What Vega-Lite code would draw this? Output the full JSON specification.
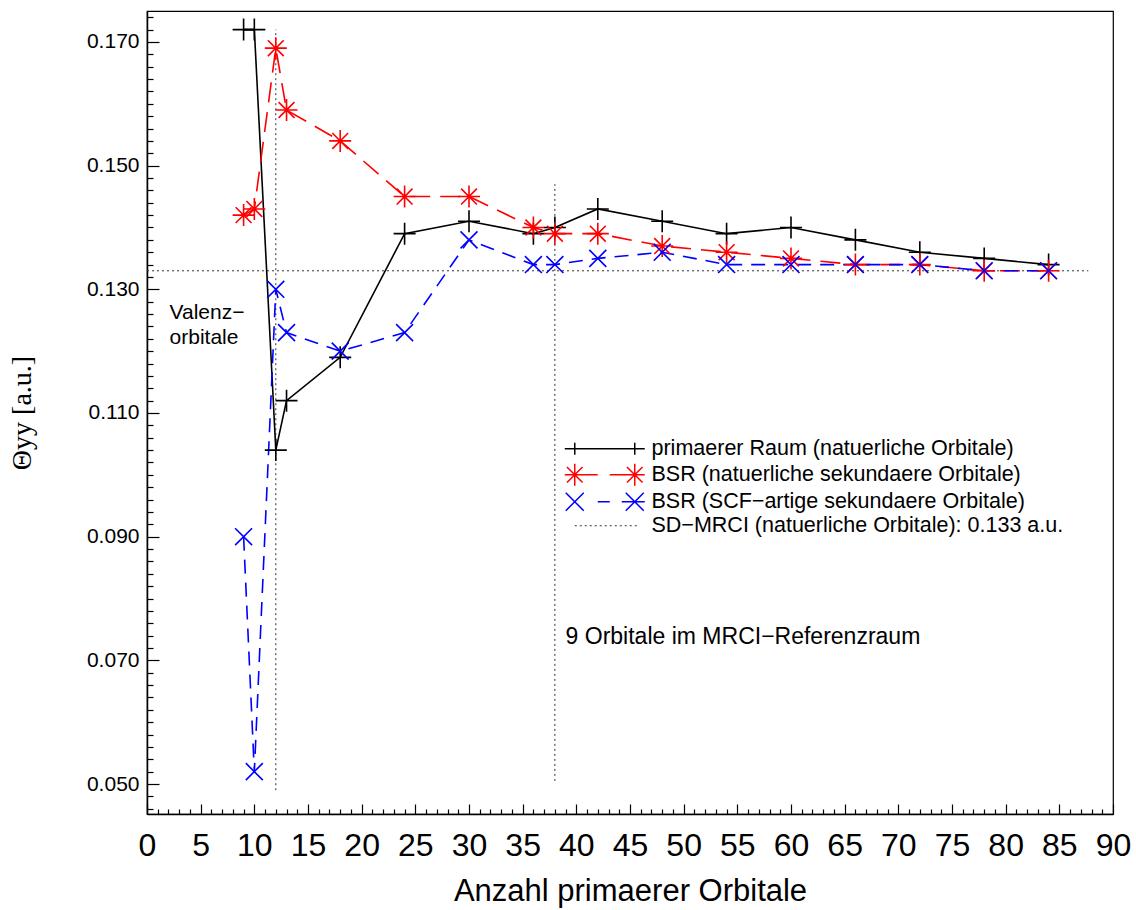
{
  "$schema": "https://vega.github.io/schema/vega-lite/v6.json",
  "width": 966,
  "height": 803,
  "autosize": {"type": "none"},
  "padding": {"left": 147, "top": 11, "right": 23, "bottom": 96},
  "background": "white",
  "config": {
    "font": "Liberation Sans",
    "view": {"stroke": "black", "strokeWidth": 1.2},
    "axis": {"grid": false, "domainColor": "black", "domainWidth": 1.5, "tickColor": "black", "tickWidth": 1.2, "labelColor": "black", "titleColor": "black", "labelOverlap": false, "labelFlush": false, "labelBound": false, "titleFontWeight": "normal"}
  },
  "datasets": {
    "series": [
      {"series": "A", "x": 9, "y": 0.172}, {"series": "A", "x": 10, "y": 0.172}, {"series": "A", "x": 12, "y": 0.104}, {"series": "A", "x": 13, "y": 0.112}, {"series": "A", "x": 18, "y": 0.119}, {"series": "A", "x": 24, "y": 0.139}, {"series": "A", "x": 30, "y": 0.141}, {"series": "A", "x": 36, "y": 0.139}, {"series": "A", "x": 38, "y": 0.140}, {"series": "A", "x": 42, "y": 0.143}, {"series": "A", "x": 48, "y": 0.141}, {"series": "A", "x": 54, "y": 0.139}, {"series": "A", "x": 60, "y": 0.140}, {"series": "A", "x": 66, "y": 0.138}, {"series": "A", "x": 72, "y": 0.136}, {"series": "A", "x": 78, "y": 0.135}, {"series": "A", "x": 84, "y": 0.134},
      {"series": "B", "x": 9, "y": 0.142}, {"series": "B", "x": 10, "y": 0.143}, {"series": "B", "x": 12, "y": 0.169}, {"series": "B", "x": 13, "y": 0.159}, {"series": "B", "x": 18, "y": 0.154}, {"series": "B", "x": 24, "y": 0.145}, {"series": "B", "x": 30, "y": 0.145}, {"series": "B", "x": 36, "y": 0.140}, {"series": "B", "x": 38, "y": 0.139}, {"series": "B", "x": 42, "y": 0.139}, {"series": "B", "x": 48, "y": 0.137}, {"series": "B", "x": 54, "y": 0.136}, {"series": "B", "x": 60, "y": 0.135}, {"series": "B", "x": 66, "y": 0.134}, {"series": "B", "x": 72, "y": 0.134}, {"series": "B", "x": 78, "y": 0.133}, {"series": "B", "x": 84, "y": 0.133},
      {"series": "C", "x": 9, "y": 0.090}, {"series": "C", "x": 10, "y": 0.052}, {"series": "C", "x": 12, "y": 0.130}, {"series": "C", "x": 13, "y": 0.123}, {"series": "C", "x": 18, "y": 0.120}, {"series": "C", "x": 24, "y": 0.123}, {"series": "C", "x": 30, "y": 0.138}, {"series": "C", "x": 36, "y": 0.134}, {"series": "C", "x": 38, "y": 0.134}, {"series": "C", "x": 42, "y": 0.135}, {"series": "C", "x": 48, "y": 0.136}, {"series": "C", "x": 54, "y": 0.134}, {"series": "C", "x": 60, "y": 0.134}, {"series": "C", "x": 66, "y": 0.134}, {"series": "C", "x": 72, "y": 0.134}, {"series": "C", "x": 78, "y": 0.133}, {"series": "C", "x": 84, "y": 0.133},
      {"series": "D", "x": 0, "y": 0.133}, {"series": "D", "x": 87.7, "y": 0.133}
    ],
    "vlines": [
      {"x": 12, "y": 0.049, "y2": 0.172},
      {"x": 38, "y": 0.0505, "y2": 0.147}
    ],
    "texts": [
      {"x": 2.1, "y": 0.1262, "label": "Valenz−", "kind": "v"},
      {"x": 2.1, "y": 0.1221, "label": "orbitale", "kind": "v"},
      {"x": 39.0, "y": 0.0738, "label": "9 Orbitale im MRCI−Referenzraum", "kind": "r"}
    ]
  },
  "encoding": {
    "x": {
      "field": "x", "type": "quantitative",
      "scale": {"domain": [0, 90], "nice": false, "zero": false},
      "axis": {
        "title": "Anzahl primaerer Orbitale",
        "titleFontSize": 31, "titleFont": "Liberation Sans", "titlePadding": 10,
        "values": [0,1,2,3,4,5,6,7,8,9,10,11,12,13,14,15,16,17,18,19,20,21,22,23,24,25,26,27,28,29,30,31,32,33,34,35,36,37,38,39,40,41,42,43,44,45,46,47,48,49,50,51,52,53,54,55,56,57,58,59,60,61,62,63,64,65,66,67,68,69,70,71,72,73,74,75,76,77,78,79,80,81,82,83,84,85,86,87,88,89,90],
        "labelExpr": "datum.value % 5 === 0 ? '' + datum.value : ''",
        "labelFontSize": 32,
        "labelPadding": 26,
        "tickSize": {"condition": {"test": "datum.value % 5 === 0", "value": -10}, "value": -5}
      }
    },
    "y": {
      "field": "y", "type": "quantitative",
      "scale": {"domain": [0.04515, 0.17501], "nice": false, "zero": false},
      "axis": {
        "title": "Θyy [a.u.]",
        "titleFont": "Liberation Serif", "titleFontSize": 28, "titlePadding": 50,
        "values": [0.046,0.048,0.050,0.052,0.054,0.056,0.058,0.060,0.062,0.064,0.066,0.068,0.070,0.072,0.074,0.076,0.078,0.080,0.082,0.084,0.086,0.088,0.090,0.092,0.094,0.096,0.098,0.100,0.102,0.104,0.106,0.108,0.110,0.112,0.114,0.116,0.118,0.120,0.122,0.124,0.126,0.128,0.130,0.132,0.134,0.136,0.138,0.140,0.142,0.144,0.146,0.148,0.150,0.152,0.154,0.156,0.158,0.160,0.162,0.164,0.166,0.168,0.170,0.172,0.174],
        "labelExpr": "(abs(datum.value*100 - round(datum.value*100)) < 1e-6 && round(datum.value*100) % 2 === 1) ? format(datum.value, '.3f') : ''",
        "labelFontSize": 21,
        "labelPadding": 20,
        "tickSize": {"condition": {"test": "abs(datum.value*100 - round(datum.value*100)) < 1e-6 && round(datum.value*100) % 2 === 1", "value": -12}, "value": -6}
      }
    }
  },
  "layer": [
    {
      "data": {"name": "vlines"},
      "mark": {"type": "rule", "color": "#333", "strokeDash": [2, 3], "strokeWidth": 1},
      "encoding": {"y2": {"field": "y2"}}
    },
    {
      "data": {"name": "series"},
      "transform": [{"filter": "datum.series === 'D'"}],
      "mark": {"type": "line", "strokeWidth": 1, "color": "#333", "strokeDash": [2, 3]},
      "encoding": {}
    },
    {
      "data": {"name": "series"},
      "transform": [{"filter": "datum.series === 'A'"}],
      "mark": {"type": "line", "strokeWidth": 1.6},
      "encoding": {
        "color": {
          "field": "series", "type": "nominal",
          "scale": {"domain": ["A", "B", "C", "D"], "range": ["black", "red", "blue", "#333"]},
          "legend": {
            "title": null,
            "orient": "none",
            "legendX": 447,
            "legendY": 427,
            "padding": 0,
            "offset": 0,
            "labelFont": "Liberation Sans",
            "labelFontSize": 21.5,
            "labelColor": "black",
            "labelLimit": 0,
            "labelOffset": 36,
            "symbolSize": 400,
            "symbolStrokeWidth": 1.5,
            "rowPadding": 0,
            "labelExpr": "datum.value === 'A' ? 'primaerer Raum (natuerliche Orbitale)' : datum.value === 'B' ? 'BSR (natuerliche sekundaere Orbitale)' : datum.value === 'C' ? 'BSR (SCF−artige sekundaere Orbitale)' : 'SD−MRCI (natuerliche Orbitale):  0.133 a.u.'",
            "encode": {
              "symbols": {
                "update": {
                  "shape": {"signal": "datum.value === 'A' ? 'M-4,0H4M-3,-0.6V0.6M3,-0.6V0.6' : datum.value === 'B' ? 'M-4,0H-0.7M0.5,0H4M-3,-1.1V1.1M-3.78,-0.78L-2.22,0.78M-3.78,0.78L-2.22,-0.78M3,-1.1V1.1M2.22,-0.78L3.78,0.78M2.22,0.78L3.78,-0.78' : datum.value === 'C' ? 'M-0.7,0H0.5M1.7,0H4M-3.9,-0.9L-2.1,0.9M-3.9,0.9L-2.1,-0.9M2.1,-0.9L3.9,0.9M2.1,0.9L3.9,-0.9' : 'M-3,0h0.2m0.3,0h0.2m0.3,0h0.2m0.3,0h0.2m0.3,0h0.2m0.3,0h0.2m0.3,0h0.2m0.3,0h0.2m0.3,0h0.2m0.3,0h0.2m0.3,0h0.2m0.3,0h0.2m0.3,0h0.2'"},
                  "stroke": {"signal": "datum.value === 'A' ? 'black' : datum.value === 'B' ? 'red' : datum.value === 'C' ? 'blue' : '#333'"},
                  "fill": {"value": "transparent"},
                  "strokeWidth": {"signal": "datum.value === 'D' ? 1 : 1.5"},
                  "size": {"value": 400},
                  "opacity": {"value": 1}
                }
              }
            }
          }
        }
      }
    },
    {
      "data": {"name": "series"},
      "transform": [{"filter": "datum.series === 'B'"}],
      "mark": {"type": "line", "strokeWidth": 1.6, "color": "red", "strokeDash": [20, 10]},
      "encoding": {}
    },
    {
      "data": {"name": "series"},
      "transform": [{"filter": "datum.series === 'C'"}],
      "mark": {"type": "line", "strokeWidth": 1.6, "color": "blue", "strokeDash": [14, 9]},
      "encoding": {}
    },
    {
      "data": {"name": "series"},
      "transform": [{"filter": "datum.series !== 'D'"}],
      "mark": {"type": "point", "filled": false, "opacity": 1, "strokeWidth": 1.6, "size": 484},
      "encoding": {
        "color": {"field": "series", "type": "nominal", "legend": null},
        "shape": {
          "field": "series", "type": "nominal",
          "scale": {"domain": ["A", "B", "C"], "range": ["M-1,0H1M0,-1V1", "M-1,0H1M0,-1V1M-0.72,-0.72L0.72,0.72M-0.72,0.72L0.72,-0.72", "M-0.77,-0.77L0.77,0.77M-0.77,0.77L0.77,-0.77"]},
          "legend": null
        }
      }
    },
    {
      "data": {"name": "texts"},
      "mark": {"type": "text", "align": "left", "baseline": "middle", "font": "Liberation Sans", "color": "black"},
      "encoding": {
        "text": {"field": "label"},
        "size": {"field": "kind", "type": "nominal", "scale": {"domain": ["v", "r"], "range": [21, 23]}, "legend": null}
      }
    }
  ]
}
